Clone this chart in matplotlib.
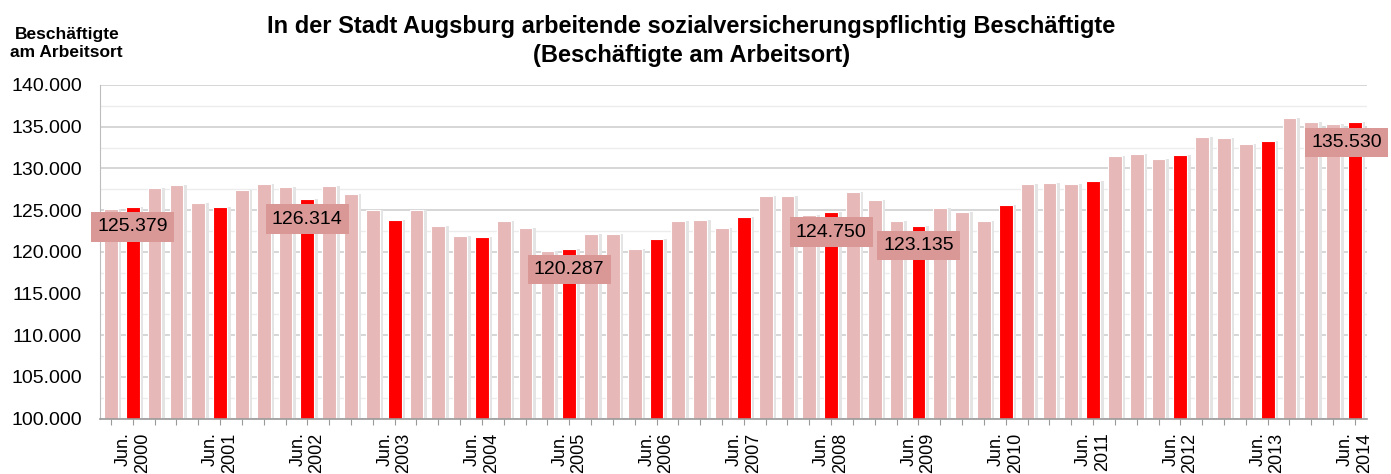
import matplotlib.pyplot as plt
import numpy as np

plt.rcParams["font.family"] = ["Liberation Sans", "DejaVu Sans"]

# quarterly values, Mar 2000 .. Jun 2014 (every 4th = June, highlighted)
quarters = ["Mar", "Jun", "Sep", "Dec"]
values = [
    125150, 125379, 127630, 128030,
    125790, 125390, 127460, 128110,
    127710, 126314, 127870, 126950,
    125030, 123830, 124950, 123110,
    121910, 121790, 123710, 122830,
    120070, 120287, 122150, 122190,
    120350, 121550, 123670, 123830,
    122790, 124110, 126630, 126630,
    124430, 124750, 127150, 126230,
    123710, 123135, 125260, 124820,
    123740, 125580, 128180, 128300,
    128100, 128500, 131450, 131690,
    131170, 131650, 133810, 133610,
    132930, 133330, 136010, 135570,
    135330, 135530,
]
years = list(range(2000, 2015))
labelled_years = [2000, 2002, 2005, 2008, 2009, 2014]

n = len(values)
x = np.arange(n)
june_idx = [1 + 4 * i for i in range(len(years))]
colors = ["#FF0000" if i in june_idx else "#E6B8B7" for i in range(n)]

fig = plt.figure(figsize=(13.91, 4.74), dpi=100)
ax = fig.add_axes([0.0719, 0.117, 0.9108, 0.7037])

# soft shadow behind the bars
ax.bar(x + 0.12, values, width=0.72, color="#e4e4e4", zorder=2)
ax.bar(x, values, width=0.63, color=colors, edgecolor="white", linewidth=0.8, zorder=3)

ax.set_ylim(100000, 140000)
ax.set_xlim(-0.5, n - 0.45)
ax.set_yticks(np.arange(100000, 140001, 5000))
ax.set_yticks(np.arange(102500, 140000, 5000), minor=True)
ax.set_yticklabels([f"{v:,}".replace(",", ".") for v in range(100000, 140001, 5000)], fontsize=14)
ax.grid(axis="y", which="major", color="#cfcfcf", linewidth=1.2, zorder=0)
ax.grid(axis="y", which="minor", color="#ececec", linewidth=1.0, zorder=0)
ax.tick_params(axis="y", which="both", length=0, pad=13)

ax.set_xticks(x)
ticklabels = [""] * n
for i, yr in zip(june_idx, years):
    ticklabels[i] = f"Jun.\n{yr}"
ax.set_xticklabels(ticklabels, rotation=90, fontsize=13, ha="center", va="top",
                   multialignment="right", linespacing=1.15)
ax.tick_params(axis="x", length=4, color="#9a9a9a", pad=6)

for side in ["top", "right"]:
    ax.spines[side].set_visible(False)
ax.spines["left"].set_color("#bdbdbd")
ax.spines["bottom"].set_color("#9a9a9a")
ax.spines["bottom"].set_linewidth(1.2)
ax.spines["bottom"].set_zorder(4)

for yr in labelled_years:
    i = june_idx[years.index(yr)]
    v = values[i]
    dx = -8 if i == n - 1 else 0
    ax.annotate(f"{v:,}".replace(",", "."), xy=(i, v), xytext=(dx, -20),
                textcoords="offset pixels", ha="center", va="center", fontsize=14,
                bbox=dict(boxstyle="square,pad=0.32", fc="#D99795", ec="none"),
                zorder=5, annotation_clip=False)

fig.text(0.497, 0.913, "In der Stadt Augsburg arbeitende sozialversicherungspflichtig Beschäftigte\n(Beschäftigte am Arbeitsort)",
         ha="center", va="center", fontsize=17, fontweight="bold", linespacing=1.35)
fig.text(0.048, 0.908, "Beschäftigte\nam Arbeitsort", ha="center", va="center",
         fontsize=12.5, fontweight="bold", linespacing=1.25)

fig.savefig("out.png", dpi=100)
